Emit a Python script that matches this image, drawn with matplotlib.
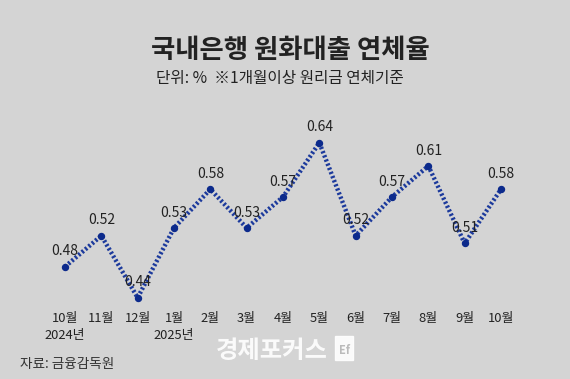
import matplotlib
matplotlib.use('Agg')
import matplotlib.pyplot as plt

plt.rcParams['font.family'] = ['Noto Sans CJK KR', 'DejaVu Sans']

# data
months = ['10월', '11월', '12월', '1월', '2월', '3월', '4월', '5월', '6월', '7월', '8월', '9월', '10월']
years = ['2024년', '', '', '2025년', '', '', '', '', '', '', '', '', '']
rates = [0.48, 0.52, 0.44, 0.53, 0.58, 0.53, 0.57, 0.64, 0.52, 0.57, 0.61, 0.51, 0.58]

W, H = 570, 379
bg = '#d4d4d4'
fig = plt.figure(figsize=(W / 100, H / 100), dpi=100, facecolor=bg)

# axes placed so that points fall where they do in the picture
x0, x1 = 65, 501
y_top, y_bot = 142.7, 297.7
ax = fig.add_axes([x0 / W, (H - y_bot) / H, (x1 - x0) / W, (y_bot - y_top) / H])
ax.set_facecolor('none')
ax.set_xlim(0, len(rates) - 1)
ax.set_ylim(min(rates), max(rates))

xs = list(range(len(rates)))
ax.plot(xs, rates, color='#1c3a9c', lw=3.2, linestyle=(0, (0.5, 0.5)),
        clip_on=False, zorder=2)
ax.plot(xs, rates, 'o', color='#0c2a8c', ms=4.3, clip_on=False, zorder=3)

for x, v in zip(xs, rates):
    ax.annotate(f'{v:.2f}', (x, v), xytext=(0, 6), textcoords='offset points',
                ha='center', va='bottom', fontsize=10, color='#222222', zorder=4)

labels = [m + '\n' + y if y else m for m, y in zip(months, years)]
ax.set_xticks(xs)
ax.set_xticklabels(labels, fontsize=9.3, color='#222222', linespacing=1.4, va='top')
ax.tick_params(axis='x', length=0, pad=10)
ax.set_yticks([])
for s in ax.spines.values():
    s.set_visible(False)

fig.text(290 / W, 1 - 51 / H, '국내은행 원화대출 연체율', ha='center', va='center',
         fontsize=19, fontweight='bold', color='#222222')
fig.text(156 / W, 1 - 78 / H, '단위: %  ※1개월이상 원리금 연체기준', ha='left', va='center',
         fontsize=11.3, color='#222222')
fig.text(20 / W, 1 - 364 / H, '자료: 금융감독원', ha='left', va='center',
         fontsize=9.8, color='#333333')

# watermark
fig.text(216 / W, 1 - 351 / H, '경제포커스', ha='left', va='center',
         fontsize=17.5, fontweight='bold', color='white', alpha=0.9)
fig.patches.append(plt.Rectangle((335 / W, 1 - 360 / H), 18 / W, 24 / H,
                                 transform=fig.transFigure, color='white', alpha=0.9))
fig.text(344 / W, 1 - 350 / H, 'Ef', ha='center', va='center', fontsize=8,
         fontweight='bold', color='#bbbbbb')

fig.savefig('out.png', dpi=100, facecolor=bg)
